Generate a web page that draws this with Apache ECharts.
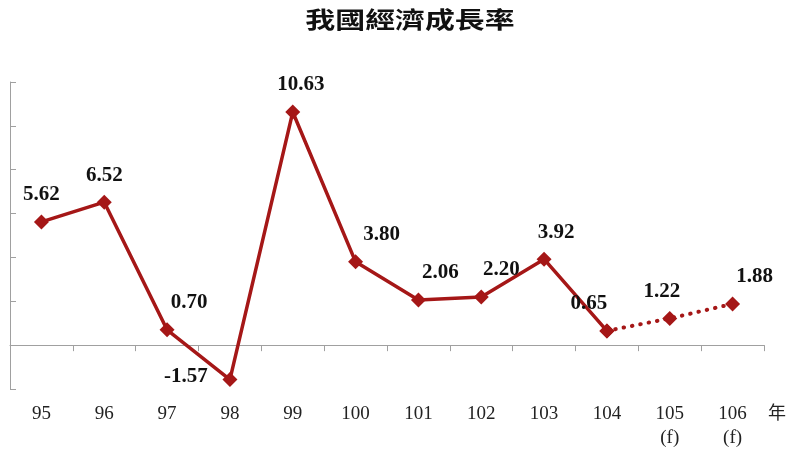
<!DOCTYPE html>
<html><head><meta charset="utf-8">
<script src="https://cdn.jsdelivr.net/npm/echarts@6/dist/echarts.min.js"></script>
<style>html,body{margin:0;padding:0;background:#fff}#c{width:800px;height:450px}</style>
</head><body><div id="c"></div>
<script>
const titleText = '我國經濟成長率';
const years = ['95','96','97','98','99','100','101','102','103','104','105','106'];
const yearLabels = ['95','96','97','98','99','100','101','102','103','104','105\n(f)','106\n(f)'];
const actual = [5.62, 6.52, 0.70, -1.57, 10.63, 3.80, 2.06, 2.20, 3.92, 0.65];
const forecast = [1.22, 1.88];
const yTicks = [-2, 0, 2, 4, 6, 8, 10, 12];

const red = '#A51717';
const solidData = years.map((y, i) => i < actual.length ? actual[i] : '-');
const dotData = years.map((y, i) => i === actual.length - 1 ? actual[i] : (i >= actual.length ? forecast[i - actual.length] : '-'));
// label offsets per point [dx, dy] relative to top position
const offs = [[0,0],[0,0],[22,0],[-44,24],[8,0],[26,0],[22,0],[20,0],[12,0],[-18,0],[-8,0],[22,0]];
const labelFont = {fontFamily:'"Liberation Serif","Times New Roman",serif', fontWeight:'bold', fontSize:21, color:'#111'};

function mk(data, showIdx) {
  return data.map((v, i) => {
    if (v === '-') return '-';
    const o = {value: v};
    if (showIdx(i)) {
      o.label = {show: true, position: 'top', distance: 9, offset: offs[i], ...labelFont,
        formatter: p => Number(p.value).toFixed(2)};
    } else {
      o.label = {show: false};
    }
    return o;
  });
}

const chart = echarts.init(document.getElementById('c'));
chart.setOption({
  animation: false,
  grid: {left: 10, right: 36, top: 82, bottom: 60},
  xAxis: [{
    type: 'category', data: years, boundaryGap: true,
    axisLine: {onZero: true, lineStyle: {color: '#a0a0a0', width: 1}},
    axisTick: {show: true, length: 6, lineStyle: {color: '#a0a0a0'}},
    axisLabel: {show: false}
  }, {
    type: 'category', data: yearLabels, position: 'bottom', boundaryGap: true,
    axisLine: {show: false}, axisTick: {show: false},
    axisLabel: {show: true, margin: 13, fontFamily: '"Liberation Serif","Times New Roman",serif', fontSize: 19, color: '#222', lineHeight: 24, verticalAlign: 'top', interval: 0}
  }],
  yAxis: {
    type: 'value', min: yTicks[0], max: yTicks[yTicks.length - 1], interval: 2,
    axisLine: {show: true, lineStyle: {color: '#a0a0a0'}},
    axisTick: {show: true, inside: true, length: 6, lineStyle: {color: '#a0a0a0'}},
    axisLabel: {show: false},
    splitLine: {show: false}
  },
  graphic: [
    {type: 'text', x: 410, y: 19, scaleX: 1.3, style: {text: titleText, font: 'bold 23px "Noto Sans CJK TC"', fill: '#111', align: 'center', verticalAlign: 'middle'}},
    {type: 'text', x: 777, y: 412, style: {text: '年', font: '18px "Noto Sans CJK TC"', fill: '#222', align: 'center', verticalAlign: 'middle'}}
  ],
  series: [{
    type: 'line', xAxisIndex: 0, data: mk(solidData, i => i < actual.length),
    symbol: 'diamond', symbolSize: 15, lineStyle: {color: red, width: 3.5},
    itemStyle: {color: red}
  }, {
    type: 'line', xAxisIndex: 0, data: mk(dotData, i => i >= actual.length),
    symbol: 'diamond', symbolSize: 15, lineStyle: {color: red, width: 4, type: [0.5, 8], cap: 'round'},
    itemStyle: {color: red}
  }]
});
</script></body></html>
